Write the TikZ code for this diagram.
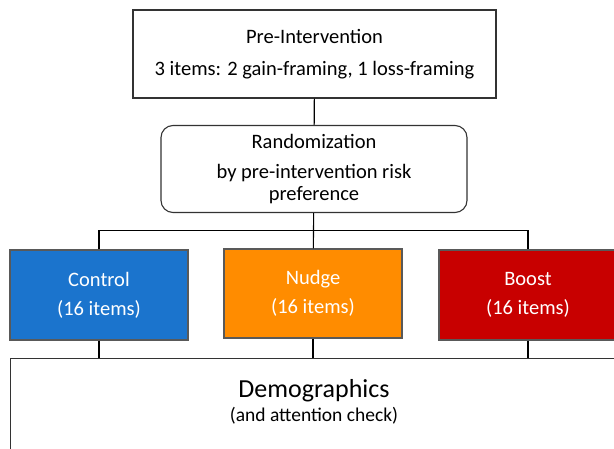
\documentclass[tikz,border=0pt]{standalone}
\usepackage{fontspec}
\setmainfont{Carlito}
\definecolor{ctrlblue}{HTML}{1B74CD}
\definecolor{nudgeorange}{HTML}{FF8C00}
\definecolor{boostred}{HTML}{C80000}
\begin{document}
\begin{tikzpicture}[x=1pt, y=-1pt, line width=1.1pt,
	box/.style = {draw=black!80, align=center, font=\fontsize{20.5}{22}\selectfont},
	arm/.style = {box, draw=black!65, text=white, minimum width=178pt, minimum height=90pt}]
		\useasboundingbox (0,0) rectangle (614,449);
		\node[box, minimum width=363pt, minimum height=88pt] (pre) at (314.5,54) {Pre-Intervention\\[10pt]3 items: 2 gain-framing, 1 loss-framing};
		\node[box, rounded corners=12pt, minimum width=306pt, minimum height=87pt] (rand) at (314,169) {Randomization\\[8pt]by pre-intervention risk\\preference};
		
		\node[arm, fill=ctrlblue] (control) at (99,295) {Control\\[7pt](16 items)};
		\node[arm, fill=nudgeorange, minimum height=89pt] (nudge) at (313,293.5) {Nudge\\[7pt](16 items)};
		\node[arm, fill=boostred] (boost) at (528,295) {Boost\\[7pt](16 items)};
		
		\node[draw=black!80, minimum width=640pt, minimum height=130pt, anchor=north west] (demobox) at (10,358) {};
		\node[align=center] (demo) at (314,402) {{\fontsize{26}{28}\selectfont Demographics}\\[4pt]{\fontsize{19.5}{22}\selectfont (and attention check)}};
		
		\draw (pre) -- (rand);
		\draw (rand) -- (nudge);
		\draw (control.north) -- ++(0,-19) -| (boost.north);
		
		\draw (control.south) -- (control.south |- demobox.north);
		\draw (nudge.south) -- (nudge.south |- demobox.north);
		\draw (boost.south) -- (boost.south |- demobox.north);
	\end{tikzpicture}
\end{document}
